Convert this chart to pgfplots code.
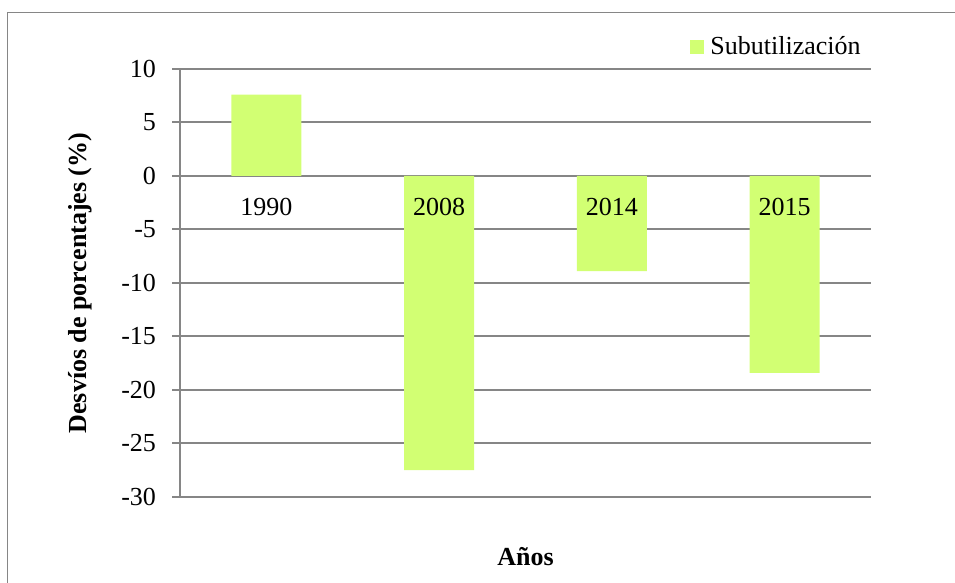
\documentclass[border=0pt]{standalone}
\usepackage{pgfplots}
\pgfplotsset{compat=1.18}
\usepackage{fontspec}
\setmainfont{Liberation Serif}
\definecolor{barc}{RGB}{210,255,115}
\definecolor{gridc}{RGB}{134,134,134}
\begin{document}
\fontsize{13bp}{15.6bp}\selectfont
\begin{tikzpicture}
\useasboundingbox (0,0) rectangle (477.5bp,291.5bp);
\draw[gridc, line width=0.9bp] (3.75bp,0) -- (3.75bp,285.2bp) -- (477.5bp,285.2bp);
\begin{axis}[
  at={(90bp,43bp)}, anchor=south west,
  scale only axis, width=345.5bp, height=214bp,
  xmin=-0.5, xmax=3.5, ymin=-30, ymax=10,
  ytick={-30,-25,...,10},
  xtick=\empty,
  axis x line*=bottom,
  axis y line*=left,
  x axis line style={draw=none},
  y axis line style={gridc, line width=1bp},
  ymajorgrids,
  grid style={gridc, line width=1bp},
  major tick length=4bp,
  tick align=outside,
  tick style={gridc, line width=1bp},
  /pgf/number format/assume math mode=true,
  yticklabel style={font=\fontsize{13bp}{15.6bp}\selectfont, xshift=-3.5bp},
  ylabel={\bfseries Desvíos de porcentajes (\%)},
  ylabel style={at={(axis description cs:-0.1447,0.5)}, anchor=center, font=\fontsize{13bp}{15.6bp}\selectfont},
  xlabel={\bfseries Años},
  xlabel style={at={(axis description cs:0.5,-0.140)}, anchor=center, font=\fontsize{13bp}{15.6bp}\selectfont},
  legend style={draw=none, fill=none, at={(1,1)}, anchor=south east, xshift=-4bp, yshift=4.2bp, inner sep=0pt, column sep=2bp, nodes={inner sep=1bp}, font=\fontsize{13bp}{15.6bp}\selectfont},
  legend cell align=left,
]
\addplot[ybar, bar width=35bp, fill=barc, draw=none,
  legend image code/.code={\fill[barc] (0bp,-3.5bp) rectangle (7.2bp,3.7bp);}]
  coordinates {(0,7.6) (1,-27.5) (2,-8.9) (3,-18.4)};
\addlegendentry{Subutilización}
\addplot[draw=none, mark=none, forget plot, nodes near coords, point meta=explicit symbolic,
  every node near coord/.append style={anchor=center, yshift=-15.5bp, font=\fontsize{13bp}{15.6bp}\selectfont, text=black}]
  table[meta=lab] {
x y lab
0 0 1990
1 0 2008
2 0 2014
3 0 2015
};
\end{axis}
\end{tikzpicture}
\end{document}
